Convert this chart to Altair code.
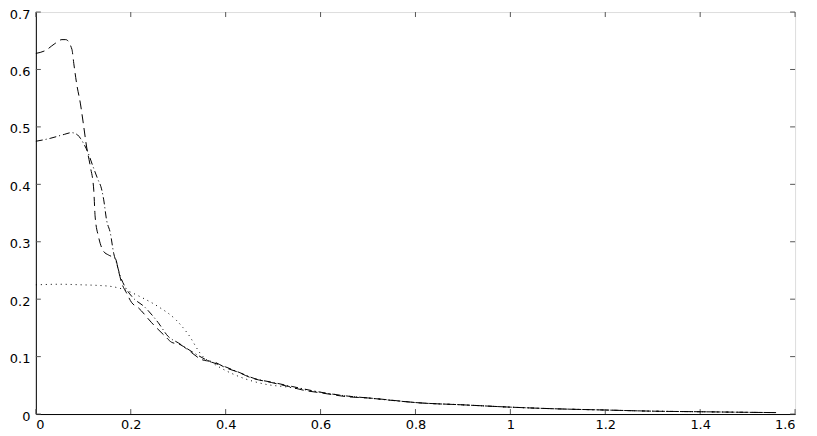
import altair as alt
import pandas as pd

# dashed series
xa = [0, 0.02, 0.04, 0.055, 0.063, 0.076, 0.08, 0.086, 0.094, 0.1, 0.107, 0.115, 0.122, 0.125, 0.132, 0.143, 0.153,
      0.168, 0.174, 0.181, 0.191, 0.202, 0.216, 0.244, 0.273, 0.286, 0.304, 0.328, 0.349, 0.378, 0.399, 0.426,
      0.454, 0.496, 0.532, 0.567, 0.6, 0.658, 0.7, 0.763, 0.8, 0.9, 1.0, 1.1, 1.2, 1.3, 1.4, 1.5, 1.56]
ya = [0.628, 0.633, 0.645, 0.652, 0.652, 0.635, 0.61, 0.575, 0.54, 0.506, 0.465, 0.43, 0.39, 0.343, 0.309, 0.283, 0.277,
      0.27, 0.25, 0.228, 0.211, 0.194, 0.185, 0.159, 0.135, 0.125, 0.121, 0.107, 0.095, 0.09, 0.081, 0.073,
      0.063, 0.055, 0.048, 0.041, 0.037, 0.03, 0.028, 0.023, 0.02, 0.016, 0.012, 0.009, 0.007, 0.005, 0.004, 0.003, 0.0025]

# dash-dot series
xb = [0, 0.03, 0.06, 0.075, 0.088, 0.094, 0.1, 0.11, 0.12, 0.13, 0.139, 0.143, 0.149, 0.157, 0.164, 0.17, 0.178,
      0.189, 0.202, 0.231, 0.258, 0.279, 0.3, 0.33, 0.36, 0.4, 0.43, 0.46, 0.5, 0.54, 0.6, 0.66, 0.7, 0.76, 0.8, 0.9,
      1.0, 1.1, 1.2, 1.3, 1.4, 1.5, 1.56]
yb = [0.475, 0.48, 0.487, 0.49, 0.486, 0.48, 0.472, 0.455, 0.432, 0.41, 0.39, 0.373, 0.338, 0.315, 0.28, 0.263, 0.24,
      0.22, 0.205, 0.185, 0.159, 0.135, 0.124, 0.108, 0.094, 0.082, 0.072, 0.062, 0.055, 0.048, 0.038, 0.031, 0.028,
      0.023, 0.02, 0.016, 0.012, 0.009, 0.007, 0.005, 0.004, 0.003, 0.0025]

# dotted series
xc = [0, 0.05, 0.097, 0.13, 0.16, 0.185, 0.223, 0.258, 0.294, 0.321, 0.349, 0.38, 0.426, 0.483, 0.53, 0.6, 0.66,
      0.7, 0.76, 0.8, 0.9, 1.0, 1.1, 1.2, 1.3, 1.4, 1.5, 1.56]
yc = [0.225, 0.226, 0.225, 0.224, 0.222, 0.217, 0.203, 0.187, 0.165, 0.139, 0.103, 0.085, 0.066, 0.052, 0.047, 0.038,
      0.031, 0.028, 0.023, 0.02, 0.016, 0.012, 0.009, 0.007, 0.005, 0.004, 0.003, 0.0025]

x_ticks = [0, 0.2, 0.4, 0.6, 0.8, 1.0, 1.2, 1.4, 1.6]
y_ticks = [0, 0.1, 0.2, 0.3, 0.4, 0.5, 0.6, 0.7]

W, H = 763, 404

xs = alt.Scale(domain=[0, 1.6], nice=False, zero=False)
ys = alt.Scale(domain=[0, 0.7], nice=False)

FONT = "DejaVu Sans"
xaxis = alt.Axis(values=x_ticks, format="~g", ticks=False, grid=False, labelPadding=5, title=None,
                 domainColor="black", labelFontSize=13, labelColor="black", labelFont=FONT)
yaxis = alt.Axis(values=y_ticks, format="~g", ticks=False, grid=False, labelPadding=6, title=None, labelOffset=2,
                 domainColor="black", labelFontSize=13, labelColor="black", labelFont=FONT)


def line(xv, yv, dash):
    df = pd.DataFrame({"x": xv, "y": yv})
    return alt.Chart(df).mark_line(color="black", strokeWidth=1, strokeDash=dash, interpolate="monotone").encode(
        x=alt.X("x:Q", scale=xs, axis=xaxis),
        y=alt.Y("y:Q", scale=ys, axis=yaxis),
    )


la = line(xa, ya, [9, 5])
lb = line(xb, yb, [7, 3, 1, 3])
lc = line(xc, yc, [1, 4])

xt = pd.DataFrame({"t": x_ticks})
yt = pd.DataFrame({"t": y_ticks})
tick_col = "#555555"
bot = alt.Chart(xt).mark_rule(color=tick_col).encode(x=alt.X("t:Q", scale=xs), y=alt.value(H), y2=alt.value(H - 5))
top = alt.Chart(xt).mark_rule(color=tick_col).encode(x=alt.X("t:Q", scale=xs), y=alt.value(0), y2=alt.value(5))
lef = alt.Chart(yt).mark_rule(color=tick_col).encode(y=alt.Y("t:Q", scale=ys), x=alt.value(0), x2=alt.value(5))
rig = alt.Chart(yt).mark_rule(color=tick_col).encode(y=alt.Y("t:Q", scale=ys), x=alt.value(W), x2=alt.value(W - 5))

chart = alt.layer(bot, top, lef, rig, lc, lb, la).properties(
    width=W, height=H,
    autosize=alt.AutoSizeParams(type="none"),
    padding={"left": 28, "top": 3, "right": 14, "bottom": 20},
).configure_view(stroke="#777777", strokeWidth=1.5).configure(background="white")

chart.save("out.html", embed_options={"renderer": "svg", "actions": False})
